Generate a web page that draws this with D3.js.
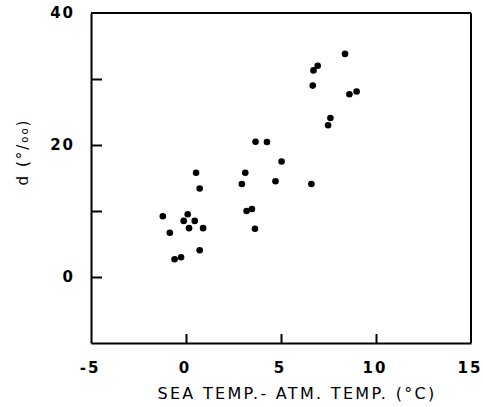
<!DOCTYPE html>
<html>
<head>
<meta charset="utf-8">
<script src="https://cdn.jsdelivr.net/npm/d3@7"></script>
<style>
  body { margin: 0; background: #fff; }
  text { font-family: "DejaVu Sans", sans-serif; fill: #000; }
</style>
</head>
<body>
<svg id="chart"></svg>
<script>
// sea temp minus atm temp (°C)
const tempDiff = [8.37, 6.93, 6.71, 6.67, 8.6, 8.98, 7.6, 7.48, 3.66, 4.26,
                  5.03, 0.53, 3.12, 0.72, 2.94, 4.71, 6.6, -1.22, -0.85, 0.09,
                  -0.12, 0.46, 0.16, 0.9, 0.72, -0.6, -0.26, 3.19, 3.47, 3.63];
// d (per mil)
const dValues = [33.8, 32.0, 31.3, 29.0, 27.7, 28.1, 24.1, 23.0, 20.5, 20.45,
                 17.5, 15.8, 15.8, 13.4, 14.1, 14.5, 14.1, 9.2, 6.7, 9.5,
                 8.5, 8.5, 7.4, 7.4, 4.06, 2.7, 3.0, 10.0, 10.3, 7.3];

const xTickLabels = [-5, 0, 5, 10, 15];
const xTickMarks = [0, 5, 10];
const yTickLabels = [0, 20, 40];
const yTickMarks = [0, 10, 20, 30];

const W = 483, H = 407;
const svg = d3.select("#chart").attr("width", W).attr("height", H);

// scales
const x = d3.scaleLinear().domain([-5, 15]).range([91, 471]);
const y = d3.scaleLinear().domain([-10, 40]).range([343, 13]);

// top and right edges of the frame
svg.append("line")
    .attr("x1", x(-5)).attr("y1", y(40))
    .attr("x2", x(15)).attr("y2", y(40))
    .style("stroke", "#000")
    .style("stroke-width", "2px");
svg.append("line")
    .attr("x1", x(15)).attr("y1", y(40))
    .attr("x2", x(15)).attr("y2", y(-10))
    .style("stroke", "#000")
    .style("stroke-width", "2px");

// bottom axis, ticks pointing inward
const xAxis = svg.append("g")
    .attr("transform", `translate(0,${y(-10)})`)
    .call(d3.axisTop(x).tickValues(xTickMarks).tickSize(9).tickSizeOuter(0).tickFormat(""));
xAxis.select(".domain").attr("stroke-width", 2);
xAxis.selectAll(".tick line").attr("stroke-width", 2);

svg.append("g").selectAll("text")
    .data(xTickLabels)
    .enter()
    .append("text")
    .attr("x", d => x(d) - 1)
    .attr("y", y(-10) + 30)
    .attr("text-anchor", "middle")
    .style("font-size", "15px")
    .style("font-weight", "bold")
    .style("letter-spacing", "2px")
    .text(d => d);

// left axis
const yAxis = svg.append("g")
    .attr("transform", `translate(${x(-5)},0)`)
    .call(d3.axisRight(y).tickValues(yTickMarks).tickSize(11).tickSizeOuter(0).tickFormat(""));
yAxis.select(".domain").attr("stroke-width", 2);
yAxis.selectAll(".tick line").attr("stroke-width", 2);

svg.append("g").selectAll("text")
    .data(yTickLabels)
    .enter()
    .append("text")
    .attr("x", 75)
    .attr("y", d => y(d) + 5)
    .attr("text-anchor", "end")
    .style("font-size", "15px")
    .style("font-weight", "bold")
    .style("letter-spacing", "2px")
    .text(d => d);

// points
svg.append("g").selectAll("circle")
    .data(tempDiff)
    .enter()
    .append("circle")
    .attr("cx", d => x(d))
    .attr("cy", (d, i) => y(dValues[i]))
    .attr("r", 3.3)
    .attr("fill", "#000");

// axis titles
svg.append("text")
    .attr("x", 297)
    .attr("y", 399)
    .attr("text-anchor", "middle")
    .style("font-size", "16px")
    .style("letter-spacing", "2.3px")
    .text("SEA TEMP.- ATM. TEMP. (°C)");

const yLab = svg.append("text")
    .attr("transform", "translate(28,152) rotate(-90)")
    .attr("text-anchor", "middle")
    .style("font-size", "15px")
    .style("letter-spacing", "2px");
yLab.append("tspan").text("d (°/");
yLab.append("tspan").style("font-size", "10px").text("oo");
yLab.append("tspan").text(")");
</script>
</body>
</html>
